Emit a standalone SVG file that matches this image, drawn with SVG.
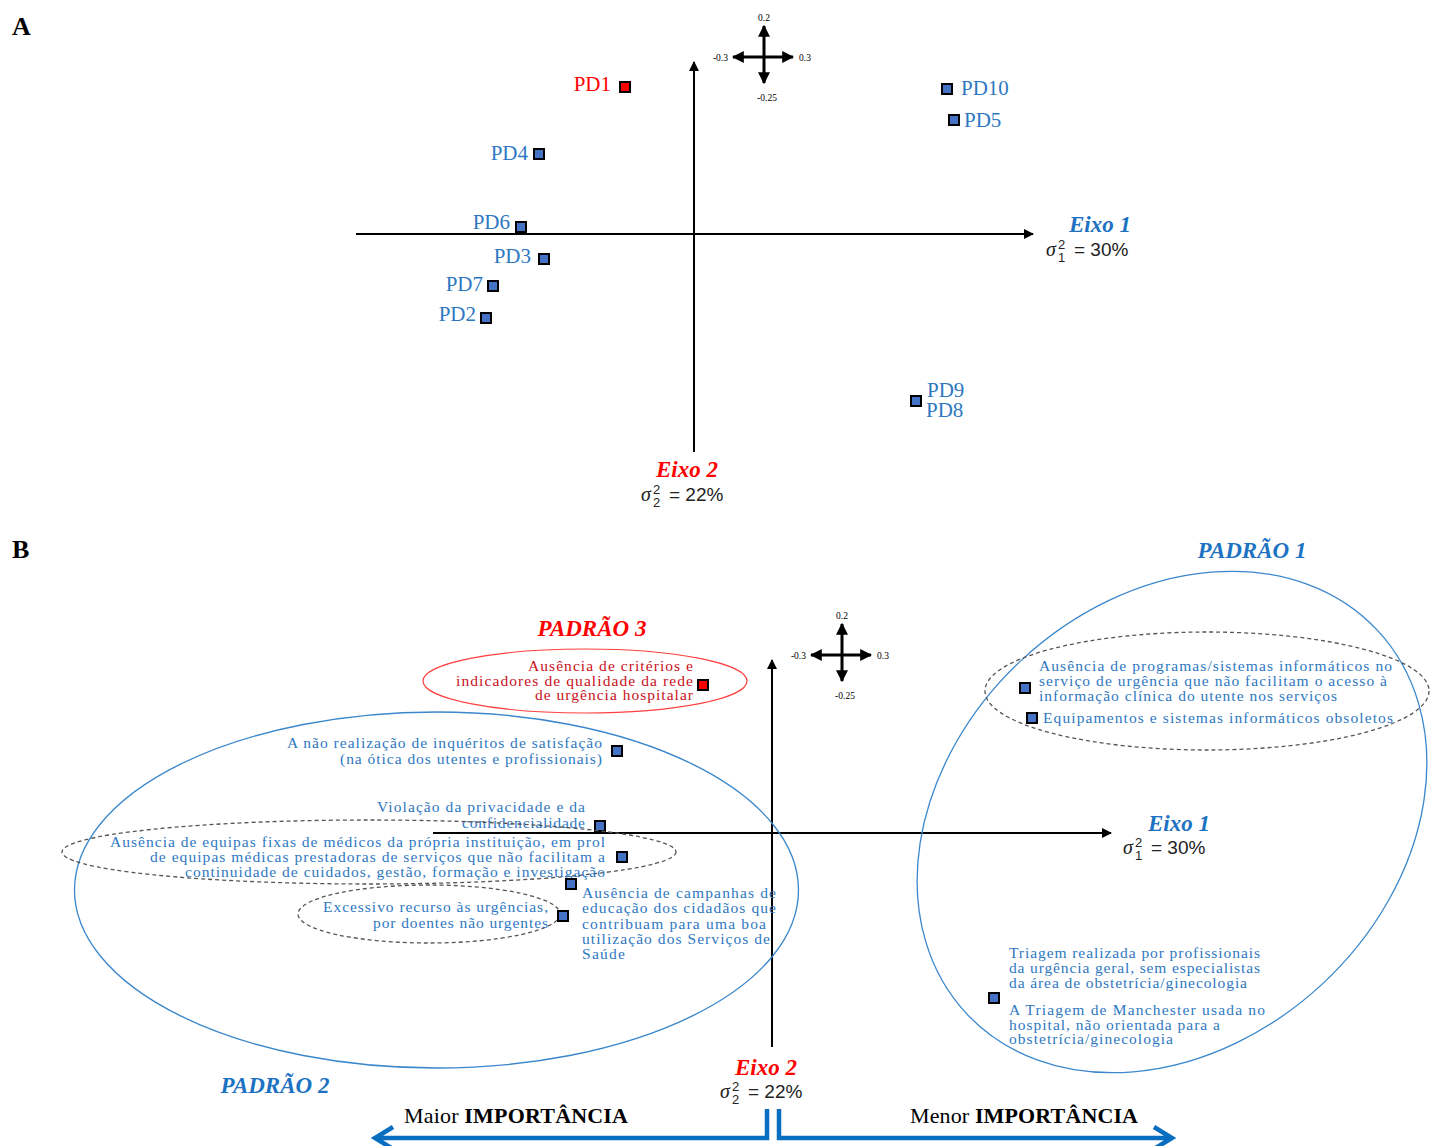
<svg xmlns="http://www.w3.org/2000/svg" width="1430" height="1146" viewBox="0 0 1430 1146">
<defs>
<marker id="ah" viewBox="0 0 10 10" refX="9" refY="5" markerWidth="5" markerHeight="5" orient="auto" markerUnits="strokeWidth"><path d="M0,0 L10,5 L0,10 z" fill="#000"/></marker>
<marker id="ahs" viewBox="0 0 10 10" refX="9" refY="5" markerWidth="4" markerHeight="4" orient="auto" markerUnits="strokeWidth"><path d="M0,0 L10,5 L0,10 z" fill="#000"/></marker>
</defs>
<style>
text{font-family:"Liberation Serif","Times New Roman",serif}
.pl{font-size:26px;font-weight:bold;fill:#000}
.pd{font-size:21px;fill:#2E78C2}
.ax{stroke:#000;stroke-width:2;fill:none;marker-end:url(#ah)}
.cp{stroke:#000;stroke-width:3;fill:none;marker-end:url(#ahs)}
.cl{font-size:9.5px;fill:#000}
.sq{fill:#4472C4;stroke:#000;stroke-width:2}
.sqr{fill:#FF0000;stroke:#000;stroke-width:2}
.eb{font-size:23px;font-weight:bold;font-style:italic;fill:#1E72C2}
.er{font-size:23px;font-weight:bold;font-style:italic;fill:#FF0000}
.sg{font-size:20px;font-style:italic;fill:#222}
.ss{font-size:13px;fill:#222;font-family:"Liberation Sans",Arial,sans-serif}
.sv{font-size:19px;fill:#222;font-family:"Liberation Sans",Arial,sans-serif}
.t{font-size:15.5px;fill:#2E78C2}
.tr{font-size:15.5px;fill:#C8101A}
.dash{fill:none;stroke:#555;stroke-width:1.3;stroke-dasharray:4 3}
.blue{fill:none;stroke:#3A87CC;stroke-width:1.3}
.imp{font-size:22px;fill:#000}
.barrow{fill:none;stroke:#0A6EC0;stroke-width:4.5}
</style>
<rect width="1430" height="1146" fill="#fff"/>

<text class="pl" x="12" y="35">A</text>
<text class="pl" x="12" y="558">B</text>

<g id="connectors">
  <line class="ax" x1="694" y1="452" x2="694" y2="62"/>
  <line class="ax" x1="356" y1="234" x2="1033" y2="234"/>
  <line class="cp" x1="764" y1="57" x2="764" y2="26"/>
  <line class="cp" x1="764" y1="57" x2="764" y2="83"/>
  <line class="cp" x1="764" y1="57" x2="733" y2="57"/>
  <line class="cp" x1="764" y1="57" x2="793" y2="57"/>
  <line class="ax" x1="772" y1="1047" x2="772" y2="660"/>
  <line class="ax" x1="433" y1="833" x2="1111" y2="833"/>
  <line class="cp" x1="842" y1="655" x2="842" y2="624"/>
  <line class="cp" x1="842" y1="655" x2="842" y2="681"/>
  <line class="cp" x1="842" y1="655" x2="811" y2="655"/>
  <line class="cp" x1="842" y1="655" x2="871" y2="655"/>
  <path class="barrow" d="M767,1109 V1138 H375 M393,1127 L375,1138 L393,1149"/>
  <path class="barrow" d="M779,1109 V1138 H1172 M1154,1127 L1172,1138 L1154,1149"/>
</g>

<g id="compassA">
  <text class="cl" x="764" y="21" text-anchor="middle">0.2</text>
  <text class="cl" x="728" y="61" text-anchor="end">-0.3</text>
  <text class="cl" x="799" y="61">0.3</text>
  <text class="cl" x="767" y="101" text-anchor="middle">-0.25</text>
</g>
<g id="compassB">
  <text class="cl" x="842" y="619" text-anchor="middle">0.2</text>
  <text class="cl" x="806" y="659" text-anchor="end">-0.3</text>
  <text class="cl" x="877" y="659">0.3</text>
  <text class="cl" x="845" y="699" text-anchor="middle">-0.25</text>
</g>

<g id="axisA1">
  <text class="eb" x="1069" y="232">Eixo 1</text>
  <text class="sg" x="1046" y="256">σ</text><text class="ss" x="1058" y="249">2</text><text class="ss" x="1058" y="262">1</text><text class="sv" x="1074" y="256">= 30%</text>
</g>
<g id="axisA2">
  <text class="er" x="656" y="477">Eixo 2</text>
  <text class="sg" x="641" y="501">σ</text><text class="ss" x="653" y="494">2</text><text class="ss" x="653" y="507">2</text><text class="sv" x="669" y="501">= 22%</text>
</g>
<g id="axisB1">
  <text class="eb" x="1148" y="831">Eixo 1</text>
  <text class="sg" x="1123" y="854">σ</text><text class="ss" x="1135" y="847">2</text><text class="ss" x="1135" y="860">1</text><text class="sv" x="1151" y="854">= 30%</text>
</g>
<g id="axisB2">
  <text class="er" x="735" y="1075">Eixo 2</text>
  <text class="sg" x="720" y="1098">σ</text><text class="ss" x="732" y="1091">2</text><text class="ss" x="732" y="1104">2</text><text class="sv" x="748" y="1098">= 22%</text>
</g>

<g id="PD1"><rect class="sqr" x="620" y="82" width="10" height="10"/><text class="pd" x="611" y="91" text-anchor="end" style="fill:#FF0000">PD1</text></g>
<g id="PD4"><rect class="sq" x="534" y="149" width="10" height="10"/><text class="pd" x="528" y="160" text-anchor="end">PD4</text></g>
<g id="PD10"><rect class="sq" x="942" y="84" width="10" height="10"/><text class="pd" x="961" y="95">PD10</text></g>
<g id="PD5"><rect class="sq" x="949" y="115" width="10" height="10"/><text class="pd" x="964" y="127">PD5</text></g>
<g id="PD6"><rect class="sq" x="516" y="222" width="10" height="10"/><text class="pd" x="510" y="229" text-anchor="end">PD6</text></g>
<g id="PD3"><rect class="sq" x="539" y="254" width="10" height="10"/><text class="pd" x="531" y="263" text-anchor="end">PD3</text></g>
<g id="PD7"><rect class="sq" x="488" y="281" width="10" height="10"/><text class="pd" x="483" y="291" text-anchor="end">PD7</text></g>
<g id="PD2"><rect class="sq" x="481" y="313" width="10" height="10"/><text class="pd" x="476" y="321" text-anchor="end">PD2</text></g>
<g id="PD9PD8"><rect class="sq" x="911" y="396" width="10" height="10"/><text class="pd" x="927" y="397">PD9</text><text class="pd" x="926" y="417">PD8</text></g>

<g id="padrao1">
  <ellipse class="blue" cx="1172" cy="822" rx="281" ry="221" transform="rotate(-43 1172 822)"/>
  <text class="eb" x="1252" y="558" text-anchor="middle">PADRÃO 1</text>
</g>
<g id="padrao2">
  <ellipse class="blue" cx="436.5" cy="890" rx="362" ry="178"/>
  <text class="eb" x="275" y="1093" text-anchor="middle">PADRÃO 2</text>
</g>
<g id="padrao3">
  <ellipse cx="585" cy="681" rx="162" ry="32" fill="none" stroke="#FF4040" stroke-width="1.2"/>
  <text class="er" x="592" y="636" text-anchor="middle">PADRÃO 3</text>
  <text class="tr" x="693" y="671" text-anchor="end" textLength="165" lengthAdjust="spacing">Ausência de critérios e</text>
  <text class="tr" x="693" y="686" text-anchor="end" textLength="237" lengthAdjust="spacing">indicadores de qualidade da rede</text>
  <text class="tr" x="693" y="700" text-anchor="end" textLength="158" lengthAdjust="spacing">de urgência  hospitalar</text>
  <rect class="sqr" x="698" y="680" width="10" height="10"/>
</g>

<g id="informaticos">
  <ellipse class="dash" cx="1207" cy="691" rx="222" ry="59"/>
  <rect class="sq" x="1020" y="683" width="10" height="10"/>
  <text class="t" x="1039" y="671" textLength="353" lengthAdjust="spacing">Ausência de programas/sistemas informáticos no</text>
  <text class="t" x="1039" y="686" textLength="348" lengthAdjust="spacing">serviço de urgência  que não facilitam  o acesso à</text>
  <text class="t" x="1039" y="701" textLength="298" lengthAdjust="spacing">informação clínica do utente nos serviços</text>
  <rect class="sq" x="1027" y="713" width="10" height="10"/>
  <text class="t" x="1043" y="723" textLength="350" lengthAdjust="spacing">Equipamentos e sistemas informáticos obsoletos</text>
</g>

<g id="inqueritos">
  <rect class="sq" x="612" y="746" width="10" height="10"/>
  <text class="t" x="602" y="748" text-anchor="end" textLength="315" lengthAdjust="spacing">A não realização  de inquéritos de satisfação</text>
  <text class="t" x="602" y="764" text-anchor="end" textLength="262" lengthAdjust="spacing">(na ótica dos utentes e profissionais)</text>
</g>

<g id="privacidade">
  <rect class="sq" x="595" y="821" width="10" height="10"/>
  <text class="t" x="585" y="812" text-anchor="end" textLength="208" lengthAdjust="spacing">Violação da privacidade e da</text>
  <text class="t" x="585" y="828" text-anchor="end" textLength="123" lengthAdjust="spacing">confidencialidade</text>
</g>

<g id="equipas">
  <ellipse class="dash" cx="369" cy="852" rx="307" ry="32"/>
  <rect class="sq" x="617" y="852" width="10" height="10"/>
  <text class="t" x="605" y="847" text-anchor="end" textLength="495" lengthAdjust="spacing">Ausência de equipas fixas de médicos da própria instituição,  em prol</text>
  <text class="t" x="605" y="862" text-anchor="end" textLength="455" lengthAdjust="spacing">de equipas médicas prestadoras de serviços que não facilitam  a</text>
  <text class="t" x="605" y="877" text-anchor="end" textLength="420" lengthAdjust="spacing">continuidade  de cuidados, gestão, formação e investigação</text>
</g>

<g id="campanhas">
  <rect class="sq" x="566" y="879" width="10" height="10"/>
  <text class="t" x="582" y="898" textLength="194" lengthAdjust="spacing">Ausência de campanhas de</text>
  <text class="t" x="582" y="913" textLength="194" lengthAdjust="spacing">educação dos cidadãos que</text>
  <text class="t" x="582" y="929" textLength="184" lengthAdjust="spacing">contribuam para uma boa</text>
  <text class="t" x="582" y="944" textLength="188" lengthAdjust="spacing">utilização  dos Serviços de</text>
  <text class="t" x="582" y="959" textLength="43" lengthAdjust="spacing">Saúde</text>
</g>

<g id="excessivo">
  <ellipse class="dash" cx="429" cy="914" rx="131" ry="29"/>
  <rect class="sq" x="558" y="911" width="10" height="10"/>
  <text class="t" x="548" y="912" text-anchor="end" textLength="225" lengthAdjust="spacing">Excessivo recurso às urgências,</text>
  <text class="t" x="548" y="928" text-anchor="end" textLength="175" lengthAdjust="spacing">por doentes não urgentes</text>
</g>

<g id="triagem">
  <rect class="sq" x="989" y="993" width="10" height="10"/>
  <text class="t" x="1009" y="958" textLength="251" lengthAdjust="spacing">Triagem  realizada  por profissionais</text>
  <text class="t" x="1009" y="973" textLength="251" lengthAdjust="spacing">da urgência  geral,  sem especialistas</text>
  <text class="t" x="1009" y="988" textLength="238" lengthAdjust="spacing">da área de obstetrícia/ginecologia</text>
  <text class="t" x="1009" y="1015" textLength="256" lengthAdjust="spacing">A Triagem de Manchester usada no</text>
  <text class="t" x="1009" y="1030" textLength="211" lengthAdjust="spacing">hospital, não orientada para a</text>
  <text class="t" x="1009" y="1044" textLength="164" lengthAdjust="spacing">obstetrícia/ginecologia</text>
</g>

<g id="importancia">
  <text class="imp" x="404" y="1123" textLength="224" lengthAdjust="spacing">Maior <tspan font-weight="bold">IMPORTÂNCIA</tspan></text>
  <text class="imp" x="910" y="1123" textLength="228" lengthAdjust="spacing">Menor <tspan font-weight="bold">IMPORTÂNCIA</tspan></text>
</g>
</svg>
